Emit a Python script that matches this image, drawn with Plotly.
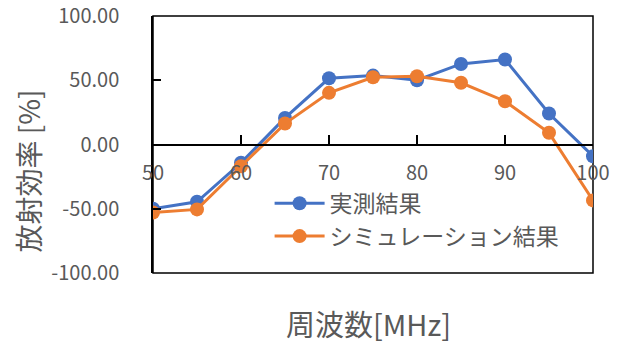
import plotly.graph_objects as go

freq = [50, 55, 60, 65, 70, 75, 80, 85, 90, 95, 100]
measured = [-50.0, -44.6, -14.2, 20.7, 51.5, 53.6, 50.0, 62.7, 66.1, 24.1, -9.1]
simulated = [-53.0, -50.5, -16.9, 16.3, 40.2, 52.3, 53.1, 48.0, 33.7, 9.1, -43.5]
name_measured = "実測結果"
name_sim = "シミュレーション結果"
y_tickvals = [-100, -50, 0, 50, 100]
y_ticktext = ["-100.00", "-50.00", "0.00", "50.00", "100.00"]
x_tickvals = [50, 60, 70, 80, 90, 100]
x_title = "周波数[MHz]"
y_title = "放射効率 [%]"

FONT = "Noto Sans CJK JP"
GRAY = "#595959"

fig = go.Figure()
fig.add_trace(go.Scatter(x=freq, y=measured, name=name_measured, mode="lines+markers",
                         line=dict(color="#4472C4", width=3),
                         marker=dict(size=14, color="#4472C4")))
fig.add_trace(go.Scatter(x=freq, y=simulated, name=name_sim, mode="lines+markers",
                         line=dict(color="#ED7D31", width=3),
                         marker=dict(size=14, color="#ED7D31")))

fig.update_layout(
    width=624, height=345,
    margin=dict(l=153, r=31, t=16, b=72, autoexpand=False),
    paper_bgcolor="white", plot_bgcolor="white",
    font=dict(family=FONT, color=GRAY, size=20),
    showlegend=True,
    legend=dict(x=0.265, y=0.355, xanchor="left", yanchor="top",
                bgcolor="rgba(0,0,0,0)", font=dict(size=23, color=GRAY),
                itemwidth=50, tracegroupgap=0),
    xaxis=dict(range=[50, 100], tickvals=x_tickvals, showgrid=False, zeroline=False,
               anchor="free", position=0.5, showline=True, linecolor="black", linewidth=1.5,
               ticks="inside", ticklen=9, tickcolor="black", tickwidth=1.5, automargin=False,
               ticklabelstandoff=11, tickfont=dict(size=20, color=GRAY)),
    yaxis=dict(range=[-100, 100], tickvals=y_tickvals, ticktext=y_ticktext,
               showgrid=False, zeroline=False, showline=True, linecolor="black", linewidth=1.5,
               ticks="inside", ticklen=8, tickcolor="black", tickwidth=1.5, automargin=False,
               ticklabelstandoff=28, tickfont=dict(size=20, color=GRAY)),
)

fig.add_shape(type="rect", xref="x domain", yref="y domain", x0=0, x1=1, y0=0, y1=1,
              line=dict(color="black", width=1.5), layer="below")

fig.add_annotation(text=x_title, xref="paper", yref="paper", x=0.49, y=-0.195,
                   xanchor="center", yanchor="middle", showarrow=False,
                   font=dict(size=29, color=GRAY, family=FONT))
fig.add_annotation(text=y_title, xref="paper", yref="paper", x=-0.285, y=0.397,
                   xanchor="center", yanchor="middle", showarrow=False, textangle=-90,
                   font=dict(size=28, color=GRAY, family=FONT))

fig.write_html("out.html")
